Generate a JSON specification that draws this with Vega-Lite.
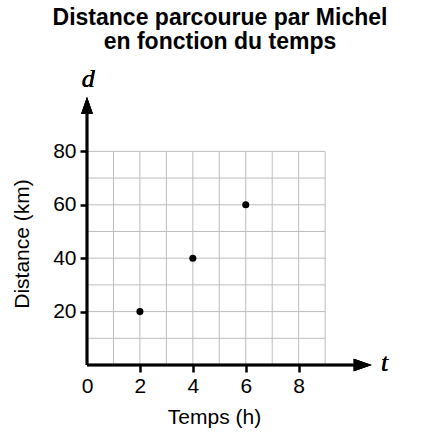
{
  "$schema": "https://vega.github.io/schema/vega-lite/v6.json",
  "width": 254,
  "height": 243,
  "autosize": "none",
  "padding": {"left": 87, "top": 122, "right": 89, "bottom": 73},
  "background": "white",
  "config": {"view": {"stroke": null}, "font": "Liberation Sans"},
  "title": {
    "text": ["Distance parcourue par Michel", "en fonction du temps"],
    "fontSize": 23,
    "fontWeight": "bold",
    "color": "black",
    "anchor": "middle",
    "frame": "group",
    "offset": 12,
    "lineHeight": 24,
    "dx": 6
  },
  "datasets": {
    "michel": [
      {"temps": 2, "distance": 20},
      {"temps": 4, "distance": 40},
      {"temps": 6, "distance": 60}
    ],
    "vgrid": [
      {"temps": 1}, {"temps": 2}, {"temps": 3}, {"temps": 4}, {"temps": 5},
      {"temps": 6}, {"temps": 7}, {"temps": 8}, {"temps": 9}
    ],
    "hgrid": [
      {"distance": 10}, {"distance": 20}, {"distance": 30}, {"distance": 40},
      {"distance": 50}, {"distance": 60}, {"distance": 70}, {"distance": 80}
    ]
  },
  "layer": [
    {
      "data": {"name": "vgrid"},
      "mark": {"type": "rule", "color": "#bdbdbd", "strokeWidth": 1},
      "encoding": {
        "x": {
          "field": "temps", "type": "quantitative", "title": "Temps (h)",
          "scale": {"domain": [0, 9.6], "nice": false},
          "axis": {
            "values": [0, 2, 4, 6, 8], "domain": false, "grid": false,
            "tickSize": 7, "tickWidth": 2.5, "tickColor": "black",
            "tickOpacity": {"condition": {"test": "datum.value === 0", "value": 0}, "value": 1},
            "labelFontSize": 21, "labelColor": "black", "labelPadding": 3, "labelFlush": false,
            "titleFontSize": 21, "titleFontWeight": "normal", "titleColor": "black", "titlePadding": 10
          }
        },
        "y": {
          "datum": 0, "type": "quantitative", "title": "Distance (km)",
          "scale": {"domain": [0, 91], "nice": false},
          "axis": {
            "values": [20, 40, 60, 80], "domain": false, "grid": false,
            "tickSize": 7, "tickWidth": 2.5, "tickColor": "black",
            "labelFontSize": 21, "labelColor": "black", "labelPadding": 4, "labelFlush": false,
            "titleFontSize": 21, "titleFontWeight": "normal", "titleColor": "black", "titlePadding": 20
          }
        },
        "y2": {"datum": 80}
      }
    },
    {
      "data": {"name": "hgrid"},
      "mark": {"type": "rule", "color": "#bdbdbd", "strokeWidth": 1},
      "encoding": {
        "y": {"field": "distance", "type": "quantitative", "title": "Distance (km)"},
        "x": {"datum": 0, "type": "quantitative", "title": "Temps (h)"},
        "x2": {"datum": 9}
      }
    },
    {
      "data": {"name": "michel"},
      "mark": {"type": "rule", "color": "black", "strokeWidth": 2.5},
      "encoding": {
        "x": {"datum": 0, "type": "quantitative", "title": "Temps (h)"},
        "x2": {"datum": 10.4},
        "y": {"datum": 0, "type": "quantitative", "title": "Distance (km)"}
      }
    },
    {
      "data": {"name": "michel"},
      "mark": {"type": "rule", "color": "black", "strokeWidth": 2.5},
      "encoding": {
        "x": {"datum": 0, "type": "quantitative", "title": "Temps (h)"},
        "y": {"datum": 0, "type": "quantitative", "title": "Distance (km)"},
        "y2": {"datum": 96}
      }
    },
    {
      "data": {"name": "michel"},
      "mark": {"type": "point", "filled": true, "color": "black", "opacity": 1, "size": 324, "shape": "M1,0 L-1,-0.7 L-1,0.7 Z"},
      "encoding": {
        "x": {"datum": 10.42, "type": "quantitative", "title": "Temps (h)"},
        "y": {"datum": 0, "type": "quantitative", "title": "Distance (km)"}
      }
    },
    {
      "data": {"name": "michel"},
      "mark": {"type": "point", "filled": true, "color": "black", "opacity": 1, "size": 289, "shape": "M0,-1 L-0.7,1 L0.7,1 Z"},
      "encoding": {
        "x": {"datum": 0, "type": "quantitative", "title": "Temps (h)"},
        "y": {"datum": 97.2, "type": "quantitative", "title": "Distance (km)"}
      }
    },
    {
      "data": {"name": "michel"},
      "mark": {"type": "text", "font": "Liberation Serif", "fontStyle": "italic", "fontSize": 26, "color": "black", "align": "center", "baseline": "middle"},
      "encoding": {
        "x": {"datum": 11.25, "type": "quantitative", "title": "Temps (h)"},
        "y": {"datum": 0.6, "type": "quantitative", "title": "Distance (km)"},
        "text": {"value": "t"}
      }
    },
    {
      "data": {"name": "michel"},
      "mark": {"type": "text", "font": "Liberation Serif", "fontStyle": "italic", "fontSize": 26, "color": "black", "align": "center", "baseline": "middle"},
      "encoding": {
        "x": {"datum": 0.05, "type": "quantitative", "title": "Temps (h)"},
        "y": {"datum": 107, "type": "quantitative", "title": "Distance (km)"},
        "text": {"value": "d"}
      }
    },
    {
      "data": {"name": "michel"},
      "mark": {"type": "point", "filled": true, "color": "black", "opacity": 1, "size": 50},
      "encoding": {
        "x": {"field": "temps", "type": "quantitative", "title": "Temps (h)"},
        "y": {"field": "distance", "type": "quantitative", "title": "Distance (km)"}
      }
    }
  ]
}
